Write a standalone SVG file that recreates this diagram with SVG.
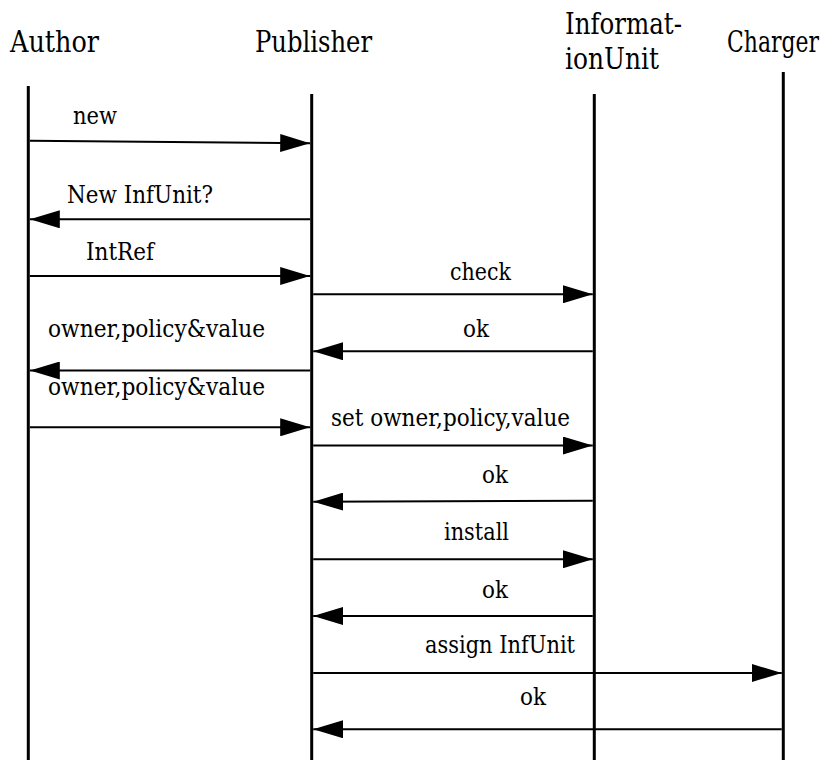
<svg xmlns="http://www.w3.org/2000/svg" width="826" height="765" viewBox="0 0 826 765">
  <style>
    text { font-family: "DejaVu Serif", serif; fill: #000; }
    .head { font-size: 29.5px; }
    .msg { font-size: 24.5px; }
    .life { stroke: #000; stroke-width: 3; fill: none; }
    .arrow { stroke: #000; stroke-width: 2; fill: none; marker-end: url(#head); }
  </style>
  <defs>
    <marker id="head" markerUnits="userSpaceOnUse" markerWidth="30" markerHeight="18" refX="30" refY="9" orient="auto">
      <path d="M0,0 L30,9 L0,18 Z" fill="#000"/>
    </marker>
  </defs>
  <rect width="826" height="765" fill="#fff"/>

  <!-- lifelines with their headers -->
  <g id="author">
    <text class="head" x="10" y="52" textLength="89" lengthAdjust="spacingAndGlyphs">Author</text>
    <line class="life" x1="28.3" y1="86" x2="28.3" y2="760"/>
  </g>
  <g id="publisher">
    <text class="head" x="255" y="52" textLength="117" lengthAdjust="spacingAndGlyphs">Publisher</text>
    <line class="life" x1="311.7" y1="94" x2="311.7" y2="760"/>
  </g>
  <g id="information-unit">
    <text class="head" x="565" y="34" textLength="117" lengthAdjust="spacingAndGlyphs">Informat-</text>
    <text class="head" x="565" y="69" textLength="94" lengthAdjust="spacingAndGlyphs">ionUnit</text>
    <line class="life" x1="594.3" y1="94" x2="594.3" y2="760"/>
  </g>
  <g id="charger">
    <text class="head" x="727" y="52" textLength="92" lengthAdjust="spacingAndGlyphs">Charger</text>
    <line class="life" x1="783.3" y1="72" x2="783.3" y2="760"/>
  </g>

  <!-- messages, top to bottom -->
  <g id="messages">
    <line class="arrow" x1="29.8" y1="140.7" x2="310.2" y2="143.3"/>
    <text class="msg" x="73" y="124" textLength="44" lengthAdjust="spacingAndGlyphs">new</text>

    <line class="arrow" x1="310.2" y1="219.3" x2="29.8" y2="219.3"/>
    <text class="msg" x="67" y="203" textLength="146" lengthAdjust="spacingAndGlyphs">New InfUnit?</text>

    <line class="arrow" x1="29.8" y1="276" x2="310.2" y2="276"/>
    <text class="msg" x="86" y="260" textLength="68" lengthAdjust="spacingAndGlyphs">IntRef</text>

    <line class="arrow" x1="313.2" y1="294.3" x2="592.8" y2="294.3"/>
    <text class="msg" x="450" y="280" textLength="61" lengthAdjust="spacingAndGlyphs">check</text>

    <line class="arrow" x1="592.8" y1="351.3" x2="313.2" y2="351.3"/>
    <text class="msg" x="463" y="337" textLength="26" lengthAdjust="spacingAndGlyphs">ok</text>

    <line class="arrow" x1="310.2" y1="370.5" x2="29.8" y2="370.5"/>
    <text class="msg" x="48" y="337" textLength="217" lengthAdjust="spacingAndGlyphs">owner,policy&amp;value</text>

    <line class="arrow" x1="29.8" y1="427.3" x2="310.2" y2="427.3"/>
    <text class="msg" x="48" y="395" textLength="217" lengthAdjust="spacingAndGlyphs">owner,policy&amp;value</text>

    <line class="arrow" x1="313.2" y1="445.5" x2="592.8" y2="445.5"/>
    <text class="msg" x="331" y="426" textLength="239" lengthAdjust="spacingAndGlyphs">set owner,policy,value</text>

    <line class="arrow" x1="592.8" y1="500.7" x2="313.2" y2="501.7"/>
    <text class="msg" x="482" y="483" textLength="26" lengthAdjust="spacingAndGlyphs">ok</text>

    <line class="arrow" x1="313.2" y1="559.3" x2="592.8" y2="559.3"/>
    <text class="msg" x="444" y="540" textLength="65" lengthAdjust="spacingAndGlyphs">install</text>

    <line class="arrow" x1="592.8" y1="616" x2="313.2" y2="616"/>
    <text class="msg" x="482" y="598" textLength="26" lengthAdjust="spacingAndGlyphs">ok</text>

    <line class="arrow" x1="313.2" y1="673" x2="781.8" y2="673"/>
    <text class="msg" x="425" y="653" textLength="150" lengthAdjust="spacingAndGlyphs">assign InfUnit</text>

    <line class="arrow" x1="781.8" y1="729.3" x2="313.2" y2="729.3"/>
    <text class="msg" x="520" y="705" textLength="26" lengthAdjust="spacingAndGlyphs">ok</text>
  </g>
</svg>
